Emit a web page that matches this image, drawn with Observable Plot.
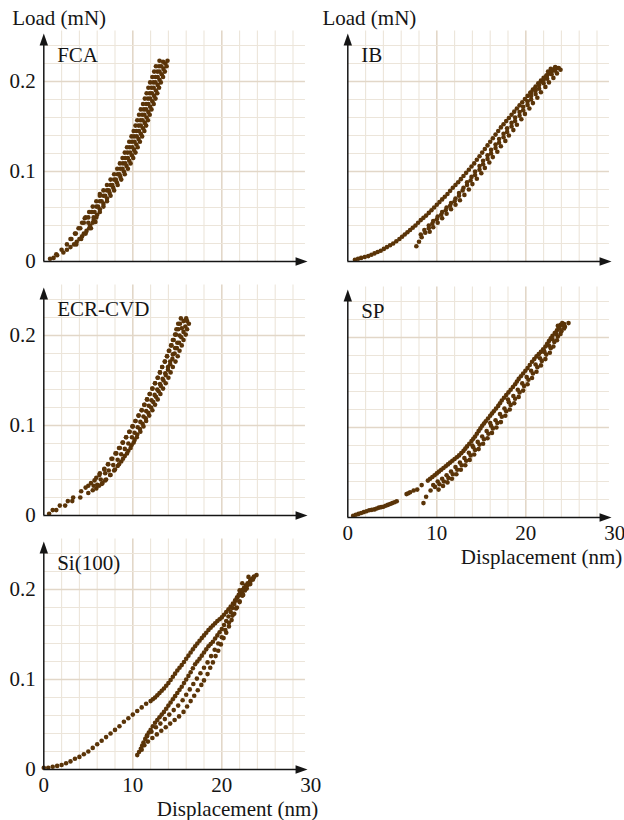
<!DOCTYPE html>
<html>
<head>
<meta charset="utf-8">
<script src="https://cdn.jsdelivr.net/npm/d3@7"></script>
<script src="https://cdn.jsdelivr.net/npm/@observablehq/plot@0.6"></script>
<style>
  html, body { margin: 0; padding: 0; background: #fff; }
  #root { position: relative; width: 624px; height: 820px; overflow: hidden; font-family: "Liberation Serif", serif; }
  .panel { position: absolute; }
</style>
</head>
<body>
<div id="root"></div>
<script>
// ---- tick / grid values ----
const xTicks = [0, 10, 20, 30];
const yTicks = [0, 0.1, 0.2];
const xGrid = [2, 4, 6, 8, 10, 12, 14, 16, 18, 20, 22, 24, 26, 28];
const yGrid = [0.02, 0.04, 0.06, 0.08, 0.1, 0.12, 0.14, 0.16, 0.18, 0.2, 0.22, 0.24];
const panelLabels = ["FCA", "IB", "ECR-CVD", "SP", "Si(100)"];
const yTitle = "Load (mN)";
const xTitle = "Displacement (nm)";

// ---- data: [displacement nm, load mN] ----
const fcaLoad = [[1.1,0.004],[2.2,0.010],[3.0,0.016],[3.7,0.022],[4.3,0.028],[4.8,0.034],[5.2,0.040],[5.6,0.046],[6.0,0.052],[6.3,0.058],[6.7,0.064],[7.1,0.070],[7.4,0.076],[7.8,0.082],[8.2,0.088],[8.6,0.094],[9.0,0.100],[9.3,0.106],[9.6,0.112],[9.9,0.118],[10.15,0.124],[10.4,0.130],[10.65,0.136],[10.9,0.142],[11.15,0.148],[11.35,0.154],[11.55,0.160],[11.75,0.166],[11.95,0.172],[12.2,0.178],[12.4,0.184],[12.6,0.190],[12.8,0.196],[13.0,0.202],[13.25,0.208],[13.45,0.214],[13.65,0.220],[13.9,0.223]];
const fcaUnload = [[13.0,0.223],[12.95,0.217],[12.75,0.211],[12.55,0.205],[12.3,0.199],[12.1,0.193],[11.9,0.187],[11.7,0.181],[11.5,0.175],[11.25,0.169],[11.05,0.163],[10.85,0.157],[10.65,0.151],[10.4,0.145],[10.15,0.139],[9.9,0.133],[9.65,0.127],[9.4,0.121],[9.15,0.115],[8.9,0.109],[8.6,0.103],[8.3,0.097],[7.9,0.091],[7.5,0.085],[7.1,0.079],[6.7,0.073],[6.3,0.067],[5.9,0.061],[5.4,0.055],[5.0,0.049],[4.5,0.043],[4.1,0.037],[3.6,0.031],[3.1,0.025],[2.6,0.019],[2.0,0.013],[1.4,0.008],[0.7,0.003]];
const fcaMid = [[1.5,0.007],[2.6,0.013],[3.4,0.019],[4.0,0.025],[4.5,0.031],[5.3,0.037],[5.0,0.043],[5.6,0.049],[5.7,0.055],[6.1,0.061],[6.5,0.067],[6.9,0.073],[7.3,0.079],[7.7,0.085],[8.1,0.091],[8.5,0.097],[8.85,0.103],[9.15,0.109],[9.45,0.115],[9.7,0.121],[9.95,0.127],[10.2,0.133],[10.45,0.139],[10.7,0.145],[10.9,0.151],[11.1,0.157],[11.3,0.163],[11.5,0.169],[11.75,0.175],[11.95,0.181],[12.15,0.187],[12.35,0.193],[12.55,0.199],[12.8,0.205],[13.0,0.211],[13.2,0.217],[13.4,0.222],[6.3,0.075],[4.6,0.048],[5.8,0.044]];
const fcaOuterR = [[3.65,0.019],[4.2,0.025],[4.7,0.031],[5.1,0.037],[5.5,0.043],[5.9,0.049],[6.3,0.055],[6.7,0.061],[7.1,0.067],[7.5,0.073],[7.9,0.079],[8.3,0.085],[8.7,0.091],[9.1,0.097],[9.45,0.103],[9.75,0.109],[10.05,0.115],[10.3,0.121],[10.55,0.127],[10.8,0.133],[11.05,0.139],[11.3,0.145],[11.5,0.151],[11.7,0.157],[11.9,0.163],[12.1,0.169],[12.35,0.175],[12.55,0.181],[12.75,0.187],[12.95,0.193],[13.15,0.199],[13.4,0.205],[13.6,0.211],[13.8,0.217]];
const fcaOuterL = [[3.0,0.025],[3.5,0.031],[3.9,0.037],[4.3,0.043],[4.7,0.049],[5.1,0.055],[5.5,0.061],[5.9,0.067],[6.3,0.073],[6.7,0.079],[7.1,0.085],[7.5,0.091],[7.9,0.097],[8.25,0.103],[8.55,0.109],[8.85,0.115],[9.1,0.121],[9.35,0.127],[9.6,0.133],[9.85,0.139],[10.1,0.145],[10.3,0.151],[10.5,0.157],[10.7,0.163],[10.9,0.169],[11.15,0.175],[11.35,0.181],[11.55,0.187],[11.75,0.193],[11.95,0.199],[12.2,0.205],[12.4,0.211],[12.6,0.217]];

const ibLoad = [[0.8,0.002],[1.5,0.004],[2.3,0.006],[3.0,0.009],[3.7,0.012],[4.4,0.016],[5.1,0.020],[5.8,0.025],[6.4,0.030],[7.0,0.035],[7.6,0.040],[8.2,0.046],[8.8,0.051],[9.4,0.057],[10.0,0.063],[10.6,0.069],[11.2,0.075],[11.8,0.082],[12.4,0.088],[13.0,0.095],[13.6,0.102],[14.2,0.109],[14.8,0.117],[15.4,0.125],[16.0,0.133],[16.6,0.141],[17.2,0.149],[17.8,0.156],[18.4,0.163],[19.0,0.170],[19.6,0.177],[20.2,0.184],[20.8,0.191],[21.4,0.198],[22.0,0.204],[22.6,0.209],[23.2,0.214]];
const ibLoad2 = [[1.15,0.003],[1.9,0.005],[2.65,0.0075],[3.35,0.0105],[4.05,0.014],[4.75,0.018],[5.45,0.0225],[6.1,0.0275],[6.7,0.0325],[7.3,0.0375],[7.9,0.043],[8.5,0.0485],[9.1,0.054],[9.7,0.060],[10.3,0.066],[10.9,0.072],[11.5,0.0785],[12.1,0.085],[12.7,0.0915],[13.3,0.0985],[13.9,0.1055],[14.5,0.113],[15.1,0.121],[15.7,0.129],[16.3,0.137],[16.9,0.145],[17.5,0.1525],[18.1,0.1595],[18.7,0.1665],[19.3,0.1735],[19.9,0.1805],[20.5,0.1875],[21.1,0.1945],[21.7,0.201],[22.3,0.2065],[22.9,0.2115],[23.5,0.215]];
const ibUnloadA = [[7.7,0.017],[8.0,0.022],[8.3,0.027],[8.7,0.032],[9.1,0.037],[9.5,0.042],[10.0,0.047],[10.5,0.052],[11.0,0.057],[11.5,0.062],[12.0,0.067],[12.5,0.073],[12.9,0.079],[13.4,0.085],[13.8,0.090],[14.3,0.096],[14.8,0.102],[15.2,0.108],[15.7,0.114],[16.1,0.120],[16.6,0.126],[17.0,0.132],[17.5,0.138],[17.9,0.144],[18.4,0.150],[18.8,0.156],[19.3,0.162],[19.7,0.168],[20.2,0.174],[20.6,0.180],[21.1,0.186],[21.5,0.192],[22.0,0.198],[22.4,0.203],[22.9,0.208],[23.3,0.212],[23.7,0.215]];
const ibUnloadB = [[9.2,0.033],[9.6,0.038],[10.1,0.043],[10.6,0.048],[11.1,0.053],[11.6,0.058],[12.1,0.063],[12.6,0.068],[13.1,0.074],[13.6,0.080],[14.0,0.086],[14.5,0.092],[15.0,0.098],[15.4,0.104],[15.9,0.110],[16.3,0.116],[16.8,0.122],[17.2,0.128],[17.7,0.134],[18.1,0.140],[18.6,0.146],[19.0,0.152],[19.5,0.158],[19.9,0.164],[20.4,0.170],[20.8,0.176],[21.3,0.182],[21.7,0.188],[22.2,0.194],[22.6,0.199],[23.1,0.204],[23.5,0.209],[23.9,0.213],[22.8,0.214],[21.0,0.192],[20.6,0.188],[21.8,0.200],[22.5,0.211]];
const ibUnloadC = [[8.2,0.030],[8.6,0.035],[9.1,0.040],[9.6,0.045],[10.1,0.050],[10.6,0.055],[11.1,0.060],[11.6,0.065],[12.1,0.070],[12.5,0.076],[13.0,0.082],[13.4,0.088],[13.9,0.094],[14.3,0.100],[14.8,0.106],[15.2,0.112],[15.7,0.118],[16.1,0.124],[16.6,0.130],[17.0,0.136],[17.5,0.142],[17.9,0.148],[18.4,0.154],[18.8,0.160],[19.3,0.166],[19.7,0.172],[20.2,0.178],[20.6,0.184],[21.1,0.190],[21.5,0.196],[22.0,0.202],[22.4,0.207],[22.9,0.212],[23.3,0.216]];

const ecrLoad = [[0.6,0.002],[1.4,0.006],[2.4,0.011],[3.2,0.016],[4.1,0.020],[5.0,0.025],[5.9,0.030],[6.5,0.035],[7.0,0.040],[7.5,0.045],[7.9,0.050],[8.3,0.055],[8.7,0.060],[9.1,0.066],[9.5,0.072],[9.85,0.078],[10.2,0.084],[10.5,0.090],[10.8,0.096],[11.1,0.102],[11.45,0.108],[11.75,0.114],[12.05,0.120],[12.3,0.126],[12.6,0.132],[12.9,0.138],[13.15,0.144],[13.45,0.150],[13.7,0.156],[13.95,0.162],[14.2,0.168],[14.45,0.174],[14.7,0.180],[14.95,0.186],[15.2,0.192],[15.45,0.198],[15.7,0.204],[15.9,0.210],[16.1,0.216],[16.0,0.219]];
const ecrUnload = [[15.4,0.219],[15.3,0.213],[15.1,0.207],[14.85,0.201],[14.6,0.195],[14.35,0.189],[14.1,0.183],[13.85,0.177],[13.6,0.171],[13.3,0.165],[13.05,0.159],[12.8,0.153],[12.5,0.147],[12.2,0.141],[11.9,0.135],[11.6,0.129],[11.3,0.123],[11.0,0.117],[10.65,0.111],[10.3,0.105],[9.95,0.099],[9.6,0.093],[9.25,0.087],[8.85,0.081],[8.45,0.075],[8.05,0.069],[7.6,0.063],[7.2,0.057],[6.8,0.052],[6.3,0.047],[5.9,0.042],[5.3,0.036],[4.7,0.031],[4.2,0.027],[3.3,0.020],[2.7,0.016],[1.8,0.011],[1.0,0.006]];
const ecrMid = [[15.7,0.216],[15.5,0.208],[15.25,0.200],[15.0,0.192],[14.75,0.186],[14.5,0.179],[14.2,0.171],[13.95,0.165],[13.65,0.158],[13.35,0.152],[13.05,0.146],[12.75,0.140],[12.45,0.134],[12.1,0.128],[11.8,0.122],[11.5,0.116],[11.2,0.110],[10.85,0.104],[10.55,0.098],[10.2,0.092],[9.9,0.087],[9.5,0.080],[9.1,0.074],[8.7,0.068],[8.3,0.062],[7.8,0.056],[7.3,0.050],[6.9,0.047],[6.4,0.040],[6.6,0.036],[6.0,0.034],[5.5,0.028],[5.6,0.033]];
const ecrOuterR = [[6.2,0.033],[6.9,0.039],[7.45,0.045],[8.0,0.051],[8.45,0.057],[8.9,0.063],[9.35,0.069],[9.75,0.075],[10.1,0.081],[10.45,0.087],[10.85,0.093],[11.2,0.099],[11.5,0.105],[11.85,0.111],[12.2,0.117],[12.5,0.123],[12.8,0.129],[13.1,0.135],[13.4,0.141],[13.7,0.147],[14.0,0.153],[14.25,0.159],[14.5,0.165],[14.8,0.171],[15.05,0.177],[15.25,0.183],[15.5,0.189],[15.7,0.195],[15.95,0.201],[16.1,0.207],[16.3,0.213]];
const ecrOuterL = [[5.0,0.033],[5.7,0.039],[6.25,0.045],[6.8,0.051],[7.25,0.057],[7.7,0.063],[8.15,0.069],[8.55,0.075],[8.9,0.081],[9.25,0.087],[9.65,0.093],[10.0,0.099],[10.3,0.105],[10.65,0.111],[11.0,0.117],[11.3,0.123],[11.6,0.129],[11.9,0.135],[12.2,0.141],[12.5,0.147],[12.8,0.153],[13.05,0.159],[13.3,0.165],[13.6,0.171],[13.85,0.177],[14.05,0.183],[14.3,0.189],[14.5,0.195],[14.75,0.201],[14.9,0.207],[15.1,0.213]];

const spLoad = [[0.6,0.002],[1.2,0.004],[1.8,0.006],[2.4,0.008],[3.0,0.009],[3.5,0.011],[4.0,0.012],[4.5,0.014],[5.0,0.016],[5.5,0.018],[6.6,0.026],[7.0,0.028],[7.8,0.031],[8.3,0.036],[9.0,0.041],[9.5,0.045],[10.0,0.049],[10.5,0.053],[11.0,0.057],[11.5,0.061],[12.0,0.065],[12.5,0.069],[13.0,0.074],[13.4,0.079],[13.9,0.085],[14.3,0.090],[14.7,0.096],[15.1,0.102],[15.5,0.107],[16.0,0.113],[16.4,0.118],[16.9,0.124],[17.3,0.130],[17.8,0.136],[18.3,0.142],[18.8,0.148],[19.2,0.154],[19.7,0.160],[20.2,0.166],[20.7,0.173],[21.2,0.179],[21.7,0.184],[22.2,0.190],[22.6,0.196],[23.0,0.202],[23.5,0.208],[23.9,0.214]];
const spLoad2 = [[0.9,0.003],[1.5,0.005],[2.1,0.007],[2.7,0.0085],[3.25,0.010],[3.75,0.0115],[4.25,0.013],[4.75,0.015],[5.25,0.017],[6.8,0.027],[7.4,0.030],[9.25,0.043],[9.75,0.047],[10.25,0.051],[10.75,0.055],[11.25,0.059],[11.75,0.063],[12.25,0.067],[12.75,0.0715],[13.2,0.0765],[13.65,0.082],[14.1,0.0875],[14.5,0.093],[14.9,0.099],[15.3,0.1045],[15.75,0.110],[16.2,0.1155],[16.65,0.121],[17.1,0.127],[17.55,0.133],[18.05,0.139],[18.55,0.145],[19.0,0.151],[19.45,0.157],[19.95,0.163],[20.45,0.1695],[20.95,0.176],[21.45,0.1815],[21.95,0.187],[22.4,0.193],[22.8,0.199],[23.25,0.205],[23.7,0.211],[24.3,0.215]];
const spUnloadA = [[8.5,0.016],[8.8,0.023],[9.3,0.030],[9.8,0.034],[10.3,0.037],[10.8,0.040],[11.3,0.044],[11.8,0.048],[12.3,0.053],[12.8,0.058],[13.3,0.063],[13.8,0.069],[14.3,0.075],[14.8,0.081],[15.3,0.087],[15.8,0.093],[16.3,0.099],[16.8,0.105],[17.3,0.112],[17.8,0.118],[18.3,0.125],[18.8,0.132],[19.3,0.139],[19.8,0.146],[20.3,0.153],[20.8,0.160],[21.3,0.167],[21.8,0.174],[22.3,0.181],[22.8,0.188],[23.2,0.195],[23.6,0.201],[24.0,0.207],[24.4,0.212],[24.8,0.216]];
const spUnloadB = [[10.2,0.031],[10.7,0.035],[11.2,0.039],[11.7,0.043],[12.2,0.048],[12.7,0.053],[13.2,0.058],[13.7,0.064],[14.2,0.070],[14.7,0.076],[15.2,0.082],[15.7,0.088],[16.2,0.094],[16.7,0.100],[17.2,0.106],[17.7,0.113],[18.2,0.120],[18.7,0.127],[19.2,0.134],[19.7,0.141],[20.2,0.148],[20.7,0.155],[21.2,0.162],[21.7,0.169],[22.2,0.176],[22.7,0.183],[23.1,0.190],[23.5,0.197],[23.9,0.204],[24.3,0.210],[24.1,0.216],[23.6,0.213],[22.0,0.186],[16.0,0.105],[18.0,0.131],[14.0,0.080]];
const spUnloadC = [[9.6,0.036],[10.1,0.040],[10.6,0.043],[11.1,0.047],[11.6,0.051],[12.1,0.056],[12.6,0.061],[13.1,0.066],[13.6,0.072],[14.1,0.078],[14.6,0.084],[15.1,0.090],[15.6,0.096],[16.1,0.102],[16.6,0.108],[17.1,0.115],[17.6,0.121],[18.1,0.128],[18.6,0.135],[19.1,0.142],[19.6,0.149],[20.1,0.156],[20.6,0.163],[21.1,0.170],[21.6,0.177],[22.1,0.184],[22.6,0.191],[23.0,0.198],[23.4,0.204],[23.8,0.210],[24.2,0.214]];

const siLoad = [[0.0,0.002],[0.5,0.002],[1.0,0.003],[1.5,0.004],[2.0,0.005],[2.5,0.007],[3.0,0.009],[3.5,0.012],[4.0,0.014],[4.5,0.017],[5.0,0.020],[5.5,0.024],[6.0,0.028],[6.5,0.032],[7.0,0.036],[7.5,0.040],[8.0,0.044],[8.5,0.048],[9.0,0.053],[9.5,0.057],[10.0,0.061],[10.5,0.065],[11.0,0.069],[11.5,0.073],[12.0,0.076],[12.5,0.080],[13.0,0.085],[13.5,0.090],[14.0,0.096],[14.5,0.103],[15.0,0.110],[15.5,0.116],[16.0,0.123],[16.5,0.130],[17.0,0.137],[17.5,0.143],[18.0,0.149],[18.5,0.155],[19.0,0.160],[19.5,0.165],[20.0,0.169],[20.5,0.175],[21.0,0.181],[21.5,0.188],[22.0,0.194],[22.5,0.200],[23.0,0.206],[23.4,0.212]];
const siLoad2 = [[12.25,0.078],[12.75,0.0825],[13.25,0.0875],[13.75,0.093],[14.25,0.0995],[14.75,0.1065],[15.25,0.113],[15.75,0.1195],[16.25,0.1265],[16.75,0.1335],[17.25,0.140],[17.75,0.146],[18.25,0.152],[18.75,0.1575],[19.25,0.1625],[19.75,0.167],[20.25,0.172],[20.75,0.178],[21.25,0.1845],[21.75,0.191],[22.25,0.197],[22.75,0.203],[23.2,0.209],[23.6,0.214]];
const siMid = [[10.5,0.016],[10.9,0.023],[11.2,0.030],[11.6,0.038],[12.0,0.044],[12.5,0.052],[13.0,0.058],[13.5,0.064],[14.0,0.071],[14.5,0.078],[15.0,0.085],[15.5,0.092],[16.0,0.100],[16.5,0.108],[17.0,0.117],[17.5,0.123],[18.0,0.130],[18.5,0.137],[19.0,0.142],[19.5,0.149],[20.0,0.156],[20.5,0.165],[21.0,0.175],[21.4,0.184],[21.7,0.191],[22.1,0.197],[22.5,0.202],[22.9,0.207]];
const siMid2 = [[10.7,0.0195],[11.05,0.0265],[11.4,0.034],[11.8,0.041],[12.25,0.048],[12.75,0.055],[13.25,0.061],[13.75,0.0675],[14.25,0.0745],[14.75,0.0815],[15.25,0.0885],[15.75,0.096],[16.25,0.104],[16.75,0.1125],[17.25,0.120],[17.75,0.1265],[18.25,0.1335],[18.75,0.1395],[19.25,0.1455],[19.75,0.1525],[20.25,0.1605],[20.75,0.170],[21.2,0.1795],[21.55,0.1875],[21.9,0.194],[22.3,0.1995],[22.7,0.2045]];
const siLowA = [[11.0,0.022],[11.3,0.027],[11.7,0.031],[12.2,0.035],[12.7,0.039],[13.2,0.043],[13.7,0.047],[14.2,0.051],[14.7,0.055],[15.2,0.059],[15.7,0.064],[16.1,0.070],[16.5,0.076],[16.9,0.082],[17.3,0.088],[17.7,0.094],[18.0,0.099],[18.4,0.106],[18.7,0.113],[19.0,0.119],[19.3,0.126],[19.6,0.132],[19.9,0.139],[20.2,0.146],[20.5,0.152],[20.8,0.159],[21.1,0.166],[21.4,0.173],[21.7,0.180],[22.0,0.187],[22.3,0.193],[22.6,0.199],[22.9,0.205],[23.2,0.210],[23.6,0.214],[23.9,0.216]];
const siLowB = [[11.6,0.037],[12.1,0.042],[12.6,0.047],[13.1,0.051],[13.6,0.056],[14.1,0.061],[14.6,0.066],[15.1,0.071],[15.6,0.077],[16.0,0.083],[16.4,0.089],[16.8,0.095],[17.2,0.101],[17.6,0.107],[18.0,0.113],[18.4,0.119],[18.8,0.126],[19.2,0.133],[19.6,0.140],[20.0,0.147],[20.4,0.155],[20.8,0.163],[21.2,0.171],[21.6,0.179],[22.0,0.186],[22.4,0.194],[22.8,0.201],[23.2,0.206],[23.5,0.211],[23.0,0.214],[22.3,0.207],[22.0,0.199]];

// ---- styles ----
const FONT = "Liberation Serif, Times New Roman, serif";
const DOT = "#5a3408";
const INK = "#151515";
const GRID_MINOR = "#ece5da";
const GRID_MAJOR = "#e2d7c8";

const arrowHead = {
  draw(ctx) {
    ctx.moveTo(0, -7);
    ctx.lineTo(4.2, 5);
    ctx.lineTo(-4.2, 5);
    ctx.closePath();
  }
};

function isMajorY(d) { return Math.abs(d * 10 - Math.round(d * 10)) < 1e-6; }

function panel({label, series, left, top, height, xAxisLabels, yAxisLabels, yTitleX}) {
  const pts = series.flat();
  const marks = [
    Plot.ruleX(xGrid, {y1: 0, y2: 0.256, stroke: d => d % 10 === 0 ? GRID_MAJOR : GRID_MINOR, strokeWidth: d => d % 10 === 0 ? 1.6 : 1.1}),
    Plot.ruleY(yGrid, {x1: 0, x2: 29.4, stroke: d => isMajorY(d) ? GRID_MAJOR : GRID_MINOR, strokeWidth: d => isMajorY(d) ? 1.6 : 1.1}),
    Plot.dot(pts, {x: d => d[0], y: d => d[1], r: 2.3, fill: DOT, stroke: "none"}),
    Plot.ruleX([0], {y1: 0, y2: 0.245, stroke: INK, strokeWidth: 1.5}),
    Plot.ruleY([0], {x1: 0, x2: 28.9, stroke: INK, strokeWidth: 1.5}),
    Plot.dot([[0, 0.2456]], {x: d => d[0], y: d => d[1], symbol: arrowHead, fill: INK, stroke: "none", r: 4}),
    Plot.dot([[28.85, 0]], {x: d => d[0], y: d => d[1], symbol: arrowHead, fill: INK, stroke: "none", r: 4, rotate: 90}),
    Plot.text([label], {x: 1.5, y: 0.229, text: d => d, textAnchor: "start", lineAnchor: "middle", fontSize: 21, fill: INK})
  ];
  if (yAxisLabels) {
    marks.push(Plot.text(yTicks, {x: 0, y: d => d, text: d => d === 0 ? "0" : d.toFixed(1), textAnchor: "end", lineAnchor: "middle", dx: -8, fontSize: 21, fill: INK}));
  }
  if (yTitleX !== undefined) {
    marks.push(Plot.text([yTitle], {x: yTitleX, y: 0.27, text: d => d, textAnchor: "start", lineAnchor: "middle", fontSize: 21, fill: INK}));
  }
  if (xAxisLabels) {
    marks.push(Plot.text(xTicks, {x: d => d, y: 0, text: d => String(d), textAnchor: "middle", lineAnchor: "middle", dy: 16, fontSize: 21, fill: INK}));
    marks.push(Plot.text([xTitle], {x: 30.85, y: 0, text: d => d, textAnchor: "end", lineAnchor: "bottom", dy: 46, fontSize: 21, fill: INK}));
  }
  const svg = Plot.plot({
    width: 312,
    height,
    x: {domain: [0, 30], range: [43.3, 310.3], axis: null},
    y: {domain: [0, 0.25], range: [261, 36], axis: null},
    style: {background: "transparent", overflow: "visible", fontFamily: FONT},
    marks
  });
  const wrap = document.createElement("div");
  wrap.className = "panel";
  wrap.style.left = left + "px";
  wrap.style.top = top + "px";
  wrap.appendChild(svg);
  document.getElementById("root").appendChild(wrap);
}

panel({label: panelLabels[0], series: [fcaLoad, fcaUnload, fcaMid, fcaOuterR, fcaOuterL], left: 0, top: 0, height: 268, yAxisLabels: true, yTitleX: -3.55});
panel({label: panelLabels[1], series: [ibLoad, ibLoad2, ibUnloadA, ibUnloadB, ibUnloadC], left: 304, top: 0, height: 268, yAxisLabels: false, yTitleX: -2.85});
panel({label: panelLabels[2], series: [ecrLoad, ecrUnload, ecrMid, ecrOuterR, ecrOuterL], left: 0, top: 254, height: 268, yAxisLabels: true});
panel({label: panelLabels[3], series: [spLoad, spLoad2, spUnloadA, spUnloadB, spUnloadC], left: 304, top: 256, height: 312, yAxisLabels: false, xAxisLabels: true});
panel({label: panelLabels[4], series: [siLoad, siLoad2, siMid, siMid2, siLowA, siLowB], left: 0, top: 508, height: 312, yAxisLabels: true, xAxisLabels: true});
</script>
</body>
</html>
